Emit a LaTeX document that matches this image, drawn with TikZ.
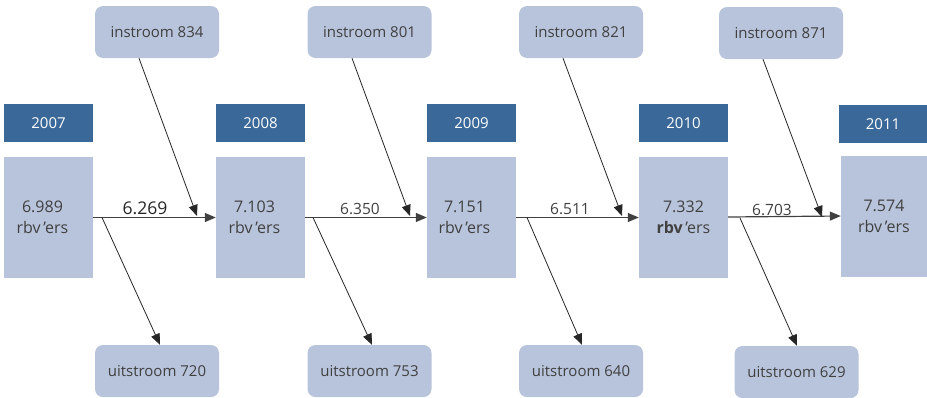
\documentclass[tikz,border=0pt]{standalone}
\usepackage{fontspec}
\setmainfont{Open Sans}
\usetikzlibrary{arrows.meta}
\definecolor{darkblue}{HTML}{3A6898}
\definecolor{lightblue}{HTML}{B8C4DC}
\definecolor{txt}{HTML}{404040}
\tikzset{
  yearbox/.style={fill=darkblue, text=white, minimum width=89pt, minimum height=38pt, inner sep=0pt, font=\fontsize{15}{17}\selectfont},
  countbox/.style={fill=lightblue, text=txt, minimum width=89pt, minimum height=121pt, inner sep=0pt, align=center, font=\fontsize{16}{22}\selectfont},
  flowbox/.style={fill=lightblue, text=txt, rounded corners=8pt, minimum width=124pt, minimum height=52pt, inner sep=0pt, font=\fontsize{15}{17}\selectfont},
  arr/.style={-{Triangle[length=11pt,width=9pt]}, line width=0.8pt, black!85},
  harr/.style={-{Triangle[length=11pt,width=9pt]}, line width=1.2pt, black!75},
  flowlabel/.style={text=txt, inner sep=0pt, font=\fontsize{15.5}{17}\selectfont}
}
\newcommand{\rbvers}{rbv\,’ers}
\begin{document}
\begin{tikzpicture}[x=1pt,y=-1pt]
\useasboundingbox (0,0) rectangle (927,397);
% year boxes
\node[yearbox] (y1) at (48.5,123) {2007};
\node[yearbox] (y2) at (260.5,123) {2008};
\node[yearbox] (y3) at (471.5,123) {2009};
\node[yearbox] (y4) at (683.5,123) {2010};
\node[yearbox, minimum width=88pt] (y5) at (883,124) {2011};
% count boxes
\node[countbox] (c1) at (48.5,217.5) {\hspace*{-12pt}6.989\\[-1pt]\hspace*{-12pt}\rbvers};
\node[countbox] (c2) at (260.5,217.5) {\hspace*{-12pt}7.103\\[-1pt]\hspace*{-12pt}\rbvers};
\node[countbox] (c3) at (471.5,217.5) {\hspace*{-14pt}7.151\\[-1pt]\hspace*{-14pt}\rbvers};
\node[countbox] (c4) at (683.5,217.5) {7.332\\[-1pt]\textbf{rbv}\,’ers};
\node[countbox, minimum width=86pt] (c5) at (884,216.5) {7.574\\[-1pt]\rbvers};
% inflow boxes
\node[flowbox] (i1) at (157,32) {instroom 834};
\node[flowbox] (i2) at (369.5,32) {instroom 801};
\node[flowbox] (i3) at (581,32) {instroom 821};
\node[flowbox] (i4) at (781,33) {instroom 871};
% outflow boxes
\node[flowbox] (u1) at (157,371) {uitstroom 720};
\node[flowbox] (u2) at (369.5,371) {uitstroom 753};
\node[flowbox] (u3) at (581,371) {uitstroom 640};
\node[flowbox] (u4) at (796.5,372) {uitstroom 629};
% horizontal flows
\draw[harr] (c1.east) -- (c2.west);
\draw[harr] (c2.east) -- (c3.west);
\draw[harr] (c3.east) -- (c4.west);
\draw[harr] ([yshift=0.5pt]c4.east) -- ([yshift=0.5pt]c5.west);
\node[flowlabel, text=black!85, font=\fontsize{17.5}{19}\selectfont] (h1) at (145,208) {6.269};
\node[flowlabel] (h2) at (360,209) {6.350};
\node[flowlabel] (h3) at (570,209) {6.511};
\node[flowlabel] (h4) at (772,209.5) {6.703};
% inflow targets
\coordinate (t1) at (197,216);
\coordinate (t2) at (410,216);
\coordinate (t3) at (622,216);
\coordinate (t4) at (822,217);
\draw[arr] ([xshift=-18pt]i1.south) -- (t1);
\draw[arr] ([xshift=-17.5pt]i2.south) -- (t2);
\draw[arr] ([xshift=-18pt]i3.south) -- (t3);
\draw[arr] ([xshift=-18pt]i4.south) -- (t4);
% outflow sources
\coordinate (s1) at (102,217.5);
\coordinate (s2) at (313,217.5);
\coordinate (s3) at (527,217.5);
\coordinate (s4) at (740,218);
\draw[arr] (s1) -- ([xshift=3pt]u1.north);
\draw[arr] (s2) -- ([xshift=2.5pt]u2.north);
\draw[arr] (s3) -- ([xshift=1pt]u3.north);
\draw[arr] (s4) -- ([xshift=0.5pt]u4.north);
\end{tikzpicture}
\end{document}
